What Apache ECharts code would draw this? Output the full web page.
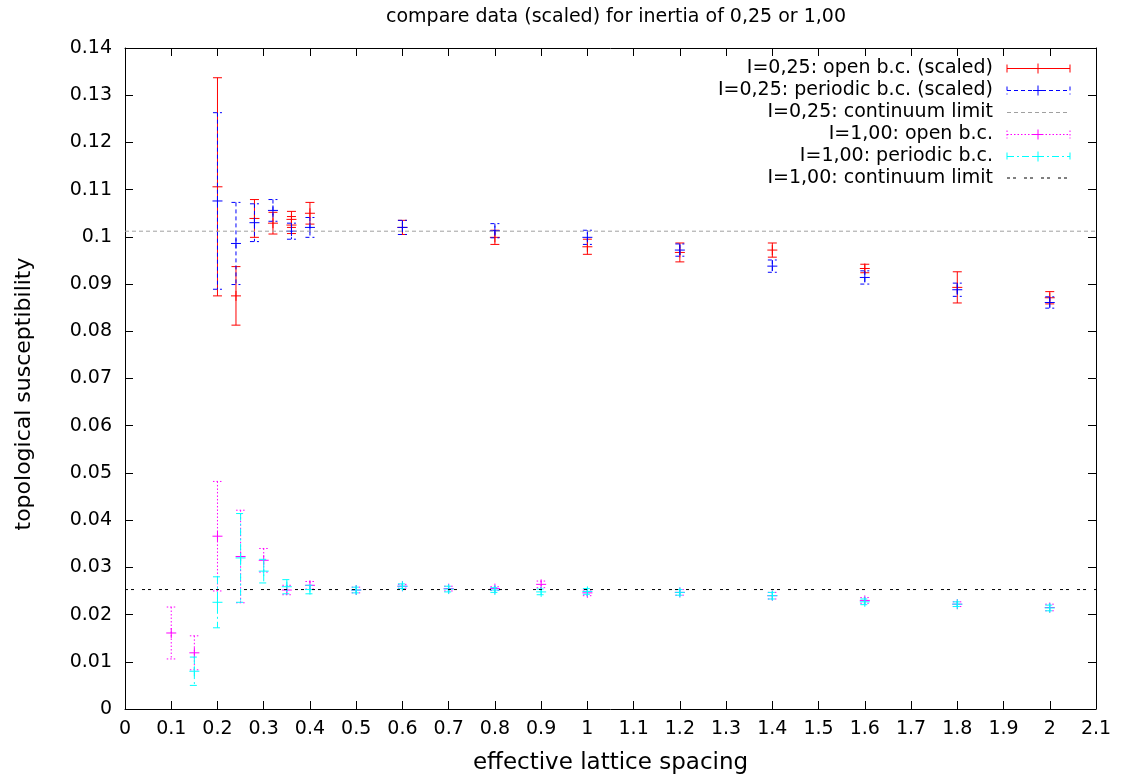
<!DOCTYPE html>
<html><head><meta charset="utf-8">
<script src="https://cdn.jsdelivr.net/npm/echarts@6/dist/echarts.min.js"></script>
<style>html,body{margin:0;padding:0;background:#fff}#c{width:1121px;height:778px}</style>
</head><body><div id="c"></div>
<script>
const chartTitle = 'compare data (scaled) for inertia of 0,25 or 1,00';
const xName = 'effective lattice spacing';
const yName = 'topological susceptibility';
const seriesNames = [
  'I=0,25: open b.c. (scaled)',
  'I=0,25: periodic b.c. (scaled)',
  'I=0,25: continuum limit',
  'I=1,00: open b.c.',
  'I=1,00: periodic b.c.',
  'I=1,00: continuum limit'
];

// I=0,25 open b.c. (scaled)
const open025X = [0.2, 0.24, 0.28, 0.32, 0.36, 0.36, 0.4, 0.6, 0.8, 1.0, 1.2, 1.4, 1.6, 1.8, 2.0];
const open025Y = [0.1106, 0.0875, 0.1039, 0.1029, 0.1037, 0.1025, 0.1050, 0.1020, 0.0999, 0.0979, 0.0967, 0.0972, 0.0933, 0.0893, 0.0871];
const open025E = [0.0231, 0.0062, 0.0040, 0.0023, 0.0017, 0.0018, 0.0023, 0.0015, 0.0015, 0.0016, 0.0020, 0.0015, 0.0009, 0.0033, 0.0013];

// I=0,25 periodic b.c. (scaled)
const per025X = [0.2, 0.24, 0.28, 0.32, 0.36, 0.4, 0.6, 0.8, 1.0, 1.2, 1.4, 1.6, 1.8, 2.0];
const per025Y = [0.1076, 0.0986, 0.1030, 0.1056, 0.1012, 0.1020, 0.1020, 0.1013, 0.0999, 0.0972, 0.0938, 0.0914, 0.0888, 0.0861];
const per025E = [0.0187, 0.0087, 0.0040, 0.0023, 0.0017, 0.0021, 0.0015, 0.0015, 0.0015, 0.0013, 0.0013, 0.0014, 0.0014, 0.0012];

// I=1,00 open b.c.
const open100X = [0.1, 0.15, 0.2, 0.25, 0.3, 0.35, 0.4, 0.5, 0.6, 0.7, 0.8, 0.9, 1.0, 1.2, 1.4, 1.6, 1.8, 2.0];
const open100Y = [0.0161, 0.0119, 0.0366, 0.0323, 0.0315, 0.0252, 0.0262, 0.0252, 0.0260, 0.0255, 0.0255, 0.0264, 0.0246, 0.0247, 0.0240, 0.0230, 0.0222, 0.0215];
const open100E = [0.0055, 0.0036, 0.0116, 0.0098, 0.0025, 0.0010, 0.0008, 0.0006, 0.0004, 0.0005, 0.0004, 0.0007, 0.0006, 0.0006, 0.0007, 0.0006, 0.0005, 0.0007];

// I=1,00 periodic b.c.
const per100X = [0.15, 0.2, 0.25, 0.3, 0.35, 0.4, 0.5, 0.6, 0.7, 0.8, 0.9, 1.0, 1.2, 1.4, 1.6, 1.8, 2.0];
const per100Y = [0.0080, 0.0226, 0.0320, 0.0292, 0.0259, 0.0253, 0.0252, 0.0260, 0.0254, 0.0252, 0.0248, 0.0249, 0.0247, 0.0240, 0.0227, 0.0222, 0.0214];
const per100E = [0.0030, 0.0054, 0.0094, 0.0025, 0.0015, 0.0009, 0.0006, 0.0005, 0.0006, 0.0005, 0.0006, 0.0006, 0.0006, 0.0007, 0.0006, 0.0005, 0.0006];

// continuum limits
const limit025 = 0.1012;
const limit100 = 0.0253;

const xMin = 0, xMax = 2.1, xStep = 0.1;
const yMin = 0, yMax = 0.14, yStep = 0.01;

const FONT = 'DejaVu Sans';
const colors = ['#ff0000', '#0000ff', '#a0a0a0', '#ff00ff', '#00ffff', '#000000'];
const dashes = [null, [4, 3], [4, 3], [1.5, 2], [7, 3, 2, 3], [3, 3, 3, 8]];

function zip(xs, ys, es) { return xs.map((x, i) => [x, ys[i], es[i]]); }

function errRender(color, dash) {
  return function (params, api) {
    const x = api.value(0), y = api.value(1), e = api.value(2);
    const c = api.coord([x, y]), t = api.coord([x, y + e]), b = api.coord([x, y - e]);
    const cap = 4.5, p = 5;
    const ls = () => ({ stroke: color, lineWidth: 1, lineDash: dash ? dash.slice() : null, fill: null });
    const ps = () => ({ stroke: color, lineWidth: 1, lineDash: null, fill: null });
    return {
      type: 'group', children: [
        { type: 'line', shape: { x1: t[0], y1: t[1], x2: b[0], y2: b[1] }, style: ls() },
        { type: 'line', shape: { x1: t[0] - cap, y1: t[1], x2: t[0] + cap, y2: t[1] }, style: ls() },
        { type: 'line', shape: { x1: b[0] - cap, y1: b[1], x2: b[0] + cap, y2: b[1] }, style: ls() },
        { type: 'line', shape: { x1: c[0] - p, y1: c[1], x2: c[0] + p, y2: c[1] }, style: ps() },
        { type: 'line', shape: { x1: c[0], y1: c[1] - p, x2: c[0], y2: c[1] + p }, style: ps() }
      ]
    };
  };
}

function errSeries(idx, data) {
  return {
    name: seriesNames[idx], type: 'custom', z: 10 + idx,
    renderItem: errRender(colors[idx], dashes[idx]),
    encode: { x: 0, y: 1 }, data: data, clip: true, silent: true
  };
}
function limitSeries(idx, val) {
  return {
    name: seriesNames[idx], type: 'line', z: 10 + idx, showSymbol: false, symbol: 'none', silent: true,
    lineStyle: { color: colors[idx], width: 1, type: dashes[idx] },
    data: [[xMin, val], [xMax, val]]
  };
}

// legend drawn gnuplot-style: text right-aligned, sample to the right
const legRows = [68.5, 90.5, 112.5, 134.5, 156.5, 178];
const legTextRight = 993, legX1 = 1007, legX2 = 1070, legMid = 1038;
const legendEls = [];
seriesNames.forEach((nm, i) => {
  const yy = legRows[i];
  legendEls.push({ type: 'text', x: legTextRight, y: yy, style: { text: nm, align: 'right', verticalAlign: 'middle', font: '19px "' + FONT + '"', fill: '#000' } });
  const ls = () => ({ stroke: colors[i], lineWidth: 1, lineDash: dashes[i] ? dashes[i].slice() : null, fill: null });
  legendEls.push({ type: 'line', shape: { x1: legX1, y1: yy, x2: legX2, y2: yy }, style: ls() });
  if (i !== 2 && i !== 5) {
    legendEls.push({ type: 'line', shape: { x1: legX1, y1: yy - 4, x2: legX1, y2: yy + 4 }, style: ls() });
    legendEls.push({ type: 'line', shape: { x1: legX2, y1: yy - 4, x2: legX2, y2: yy + 4 }, style: ls() });
    legendEls.push({ type: 'line', shape: { x1: legMid - 5, y1: yy, x2: legMid + 5, y2: yy }, style: { stroke: colors[i], lineWidth: 1 } });
    legendEls.push({ type: 'line', shape: { x1: legMid, y1: yy - 5, x2: legMid, y2: yy + 5 }, style: { stroke: colors[i], lineWidth: 1 } });
  }
});
// y axis title, placed like the gnuplot original
legendEls.push({ type: 'text', x: 24, y: 394, rotation: Math.PI / 2, style: { text: yName, align: 'center', verticalAlign: 'middle', font: '22px "' + FONT + '"', fill: '#000' } });

const axisCommon = {
  axisLine: { show: true, onZero: false, lineStyle: { color: '#000', width: 1 } },
  axisTick: { show: true, inside: true, length: 8, lineStyle: { color: '#000', width: 1 } },
  splitLine: { show: false }
};
const labelStyle = { color: '#000', fontFamily: FONT, fontSize: 19 };
const fmt = v => String(parseFloat(v.toFixed(2)));

const option = {
  animation: false,
  backgroundColor: '#fff',
  title: { text: chartTitle, left: 611, top: 3, textAlign: 'center', textStyle: { color: '#000', fontFamily: FONT, fontSize: 19, fontWeight: 'normal' } },
  grid: { left: 125, right: 25, top: 48, bottom: 69, containLabel: false, outerBoundsMode: 'none' },
  xAxis: [
    Object.assign({ type: 'value', position: 'bottom', min: xMin, max: xMax, interval: xStep,
      axisLabel: Object.assign({ margin: 11, formatter: fmt }, labelStyle),
      name: xName, nameLocation: 'middle', nameGap: 43, nameTextStyle: { color: '#000', fontFamily: FONT, fontSize: 23 } }, axisCommon),
    Object.assign({ type: 'value', position: 'top', min: xMin, max: xMax, interval: xStep, axisLabel: { show: false } }, axisCommon)
  ],
  yAxis: [
    Object.assign({ type: 'value', position: 'left', min: yMin, max: yMax, interval: yStep,
      axisLabel: Object.assign({ margin: 13, formatter: fmt }, labelStyle) }, axisCommon),
    Object.assign({ type: 'value', position: 'right', min: yMin, max: yMax, interval: yStep, axisLabel: { show: false } }, axisCommon)
  ],
  graphic: legendEls,
  series: [
    errSeries(0, zip(open025X, open025Y, open025E)),
    errSeries(1, zip(per025X, per025Y, per025E)),
    limitSeries(2, limit025),
    errSeries(3, zip(open100X, open100Y, open100E)),
    errSeries(4, zip(per100X, per100Y, per100E)),
    limitSeries(5, limit100)
  ]
};
const chart = echarts.init(document.getElementById('c'), null, { renderer: 'canvas' });
chart.setOption(option);
</script></body></html>
